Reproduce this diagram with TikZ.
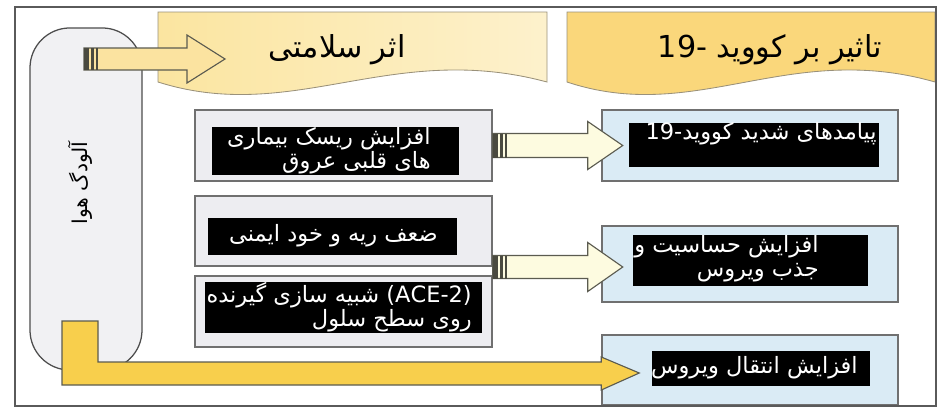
\documentclass[tikz,border=0pt]{standalone}
\usepackage{fontspec}
\usetikzlibrary{calc}
\newfontfamily\persian[Script=Arabic]{DejaVu Sans}
\TeXXeTstate=1

\definecolor{framegray}{HTML}{5A5A5A}
\definecolor{pillfill}{HTML}{F1F1F3}
\definecolor{pillline}{HTML}{4D4D4D}
\definecolor{bannerleft}{HTML}{FBE5A0}
\definecolor{bannerright}{HTML}{FDF1CC}
\definecolor{bannergold}{HTML}{FAD77B}
\definecolor{bannerline}{HTML}{9A917A}
\definecolor{boxfill}{HTML}{EDEDF1}
\definecolor{boxline}{HTML}{707070}
\definecolor{bluefill}{HTML}{DAEBF5}
\definecolor{arrowline}{HTML}{5B5B50}
\definecolor{topfill}{HTML}{FBE3A0}
\definecolor{creamfill}{HTML}{FDFBE0}
\definecolor{goldfill}{HTML}{F8CF4C}
\definecolor{stripegray}{HTML}{4A4A40}

% block arrow: from, tip, half body, half head, head length, fill
\newcommand{\blockarrow}[6]{%
  \draw[arrowbody, fill=#6] ($(#1)+(0,-#3)$) -- ($(#2)+(-#5,-#3)$) -- ($(#2)+(-#5,-#4)$) -- (#2)
    -- ($(#2)+(-#5,#4)$) -- ($(#2)+(-#5,#3)$) -- ($(#1)+(0,#3)$) -- cycle;
  \fill[stripe] ($(#1)+(0,-#3)$) rectangle ($(#1)+(5,#3)$);
  \fill[stripe] ($(#1)+(7,-#3)$) rectangle ($(#1)+(10,#3)$);
  \fill[stripe] ($(#1)+(12,-#3)$) rectangle ($(#1)+(14,#3)$);
}

\begin{document}
\begin{tikzpicture}[x=0.025cm, y=-0.025cm,
    frame/.style={draw=framegray, line width=1.6pt},
    pillbox/.style={draw=pillline, fill=pillfill, line width=0.9pt, rounded corners=1cm, inner sep=0pt},
    banner/.style={draw=bannerline, line width=0.6pt},
    graybox/.style={draw=boxline, fill=boxfill, line width=1pt, minimum width=7.425cm, inner sep=0pt},
    bluebox/.style={draw=boxline, fill=bluefill, line width=1pt, minimum width=7.4cm, inner sep=0pt},
    blackbox/.style={fill=black, inner sep=0pt},
    boxtext/.style={text=white, font=\persian\fontsize{16}{17}\selectfont, align=right, inner sep=0pt},
    headtext/.style={font=\persian\fontsize{21.5}{24}\selectfont, inner sep=0pt},
    arrowbody/.style={draw=arrowline, line width=0.8pt, line join=miter},
    stripe/.style={fill=stripegray}]

  \useasboundingbox (0,0) rectangle (948,408);

  % headers
  \path[banner, left color=bannerleft, right color=bannerright]
    (158,12) -- (547,12) -- (547,82) .. controls (391,40) and (294,125) .. (158,82) -- cycle;
  \path[banner, fill=bannergold]
    (567,12) -- (935,12) -- (935,82) .. controls (788,40) and (696,125) .. (567,82) -- cycle;
  \node[headtext] (health) at (337,50) {\beginR اثر سلامتی\endR};
  \node[headtext] (covid) at (770,50) {\beginR تاثیر بر کووید -\beginL 19\endL\endR};

  % air pollution
  \node[pillbox, minimum width=2.8cm, minimum height=8.55cm] (air) at (86,199) {};
  \node[font=\persian\fontsize{14.5}{17}\selectfont, rotate=90, inner sep=0pt] (airtext) at (80,183)
    {\beginR آلودگ هوا\endR};

  % health effects
  \node[graybox, minimum height=1.775cm] (risk1) at (343.5,145.5) {};
  \node[graybox, minimum height=1.75cm] (risk2) at (343.5,231) {};
  \node[graybox, minimum height=1.775cm] (risk3) at (343.5,311.5) {};
  \node[blackbox, minimum width=6.175cm, minimum height=1.2cm] (b1) at (335.5,151) {};
  \node[blackbox, minimum width=6.225cm, minimum height=0.925cm] (b2) at (332.5,236.5) {};
  \node[blackbox, minimum width=6.925cm, minimum height=1.275cm] (b3) at (343.5,307.5) {};
  \node[boxtext, anchor=east] (t1) at (431,151)
    {\beginR افزایش ریسک بیماری\endR\\ \beginR های قلبی عروق\endR};
  \node[boxtext, anchor=east] (t2) at (438,236) {\beginR ضعف ریه و خود ایمنی\endR};
  \node[boxtext, anchor=east] (t3) at (472,307)
    {\beginR\beginL(ACE-2)\endL{} شبیه سازی گیرنده\endR\\ \beginR روی سطح سلول\endR};

  % covid effects
  \node[bluebox, minimum height=1.775cm] (sev1) at (750,145.5) {};
  \node[bluebox, minimum height=1.9cm] (sev2) at (750,264) {};
  \node[bluebox, minimum height=1.75cm] (sev3) at (750,370) {};
  \node[blackbox, minimum width=6.25cm, minimum height=1.1cm] (k1) at (754,145) {};
  \node[blackbox, minimum width=5.875cm, minimum height=1.275cm] (k2) at (750.5,260.5) {};
  \node[blackbox, minimum width=5.45cm, minimum height=0.875cm] (k3) at (761,368.5) {};
  \node[boxtext, anchor=east] (u1) at (877,134) {\beginR پیامدهای شدید کووید-\beginL 19\endL\endR};
  \node[boxtext, anchor=east] (u2) at (819,259)
    {\beginR افزایش حساسیت و\endR\\ \beginR جذب ویروس\endR};
  \node[boxtext, anchor=east] (u3) at (858,368) {\beginR افزایش انتقال ویروس\endR};

  % arrows
  \coordinate (airout) at (84,59);
  \coordinate (healthin) at (225,59);
  \blockarrow{airout}{healthin}{11}{24}{38}{topfill}
  \coordinate (lungout) at ($(risk2.south east)!0.5!(risk3.north east)+(0,-4)$);
  \blockarrow{risk1.east}{$(risk1.east)+(130,0)$}{12}{24}{35}{creamfill}
  \blockarrow{lungout}{$(lungout)+(130,0)$}{11.5}{24.5}{35}{creamfill}
  \coordinate (bendtop) at (80,321);
  \coordinate (spreadin) at ($(sev3.west)+(38,3)$);
  \draw[arrowbody, fill=goldfill] ($(bendtop)+(-18,0)$) -- ($(bendtop)+(18,0)$) |- ($(spreadin)+(-38,-11)$)
    -- ($(spreadin)+(-38,-16)$) -- (spreadin) -- ($(spreadin)+(-38,17)$) -- ($(spreadin)+(-38,12)$)
    -| cycle;

  % frame
  \draw[frame] (15,7) rectangle (936,406);
\end{tikzpicture}
\end{document}
